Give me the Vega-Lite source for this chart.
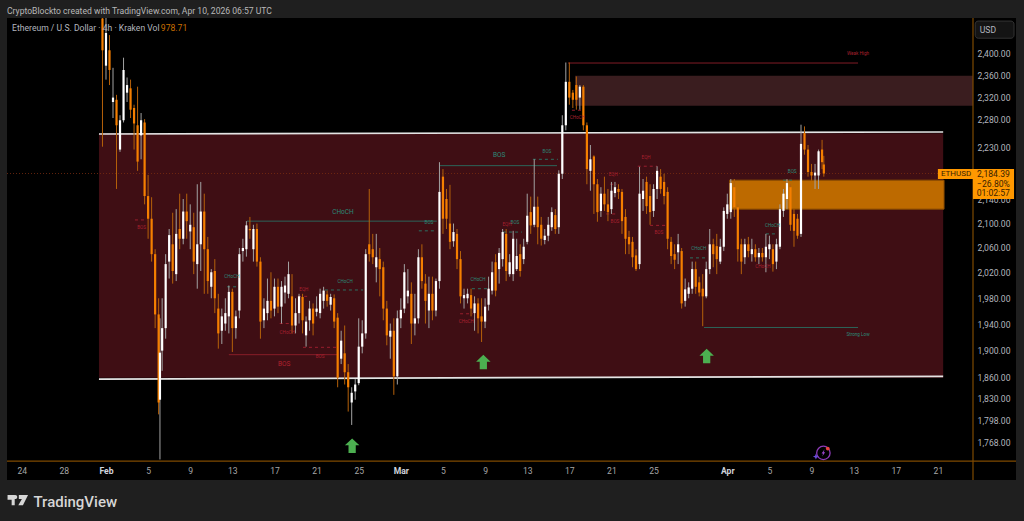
{"$schema":"https://vega.github.io/schema/vega-lite/v6.json","width":1009,"height":462,"autosize":{"type":"none"},"padding":{"left":7,"top":18,"right":8,"bottom":41},"background":"#1f1f1f","view":{"fill":"#000000","stroke":null},"config":{"font":"Roboto","axis":{"grid":false,"domain":false,"ticks":false}},"title":{"text":"CryptoBlockto created with TradingView.com, Apr 10, 2026 06:57 UTC","anchor":"start","frame":"group","offset":2,"fontSize":8.6,"fontWeight":"normal","color":"#b8b8b8"},
"datasets":{
"candles":[
{"t":"2026-01-31T16:00Z","o":2468,"c":2407,"p2":2469,"p":2231},
{"t":"2026-02-01T00:00Z","o":2378,"c":2440,"p2":2469,"p":2352},
{"t":"2026-02-01T08:00Z","o":2407,"c":2370,"p2":2436,"p":2342},
{"t":"2026-02-01T16:00Z","o":2311,"c":2319,"p2":2374,"p":2282},
{"t":"2026-02-02T00:00Z","o":2315,"c":2269,"p2":2324,"p":2158},
{"t":"2026-02-02T08:00Z","o":2226,"c":2278,"p2":2287,"p":2222},
{"t":"2026-02-02T16:00Z","o":2278,"c":2370,"p2":2393,"p":2274},
{"t":"2026-02-03T00:00Z","o":2328,"c":2342,"p2":2356,"p":2311},
{"t":"2026-02-03T08:00Z","o":2336,"c":2297,"p2":2352,"p":2282},
{"t":"2026-02-03T16:00Z","o":2300,"c":2272,"p2":2306,"p":2226},
{"t":"2026-02-04T00:00Z","o":2269,"c":2205,"p2":2339,"p":2189},
{"t":"2026-02-04T08:00Z","o":2251,"c":2278,"p2":2291,"p":2209},
{"t":"2026-02-04T16:00Z","o":2274,"c":2146,"p2":2280,"p":2132},
{"t":"2026-02-05T00:00Z","o":2146,"c":2108,"p2":2182,"p":2075},
{"t":"2026-02-05T08:00Z","o":2108,"c":2050,"p2":2144,"p":2038},
{"t":"2026-02-05T16:00Z","o":2050,"c":1955,"p2":2058,"p":1934},
{"t":"2026-02-06T00:00Z","o":1955,"c":1824,"p2":1980,"p":1807},
{"t":"2026-02-06T03:00Z","o":1828,"c":1897,"p2":1949,"p":1744},
{"t":"2026-02-06T08:00Z","o":1900,"c":1934,"p2":1980,"p":1870},
{"t":"2026-02-06T16:00Z","o":1934,"c":2034,"p2":2050,"p":1918},
{"t":"2026-02-07T00:00Z","o":2038,"c":2081,"p2":2091,"p":2011},
{"t":"2026-02-07T08:00Z","o":2066,"c":2023,"p2":2118,"p":2003},
{"t":"2026-02-07T16:00Z","o":2018,"c":2083,"p2":2124,"p":2007},
{"t":"2026-02-08T00:00Z","o":2091,"c":2075,"p2":2150,"p":2058},
{"t":"2026-02-08T08:00Z","o":2075,"c":2120,"p2":2141,"p":2066},
{"t":"2026-02-08T16:00Z","o":2120,"c":2104,"p2":2150,"p":2075},
{"t":"2026-02-09T00:00Z","o":2087,"c":2098,"p2":2132,"p":2058},
{"t":"2026-02-09T08:00Z","o":2094,"c":2038,"p2":2118,"p":2018},
{"t":"2026-02-09T16:00Z","o":2034,"c":2066,"p2":2166,"p":1995},
{"t":"2026-02-10T00:00Z","o":2066,"c":2120,"p2":2170,"p":2023},
{"t":"2026-02-10T08:00Z","o":2120,"c":2058,"p2":2150,"p":1987},
{"t":"2026-02-10T16:00Z","o":2058,"c":2007,"p2":2078,"p":1987},
{"t":"2026-02-11T00:00Z","o":1998,"c":2021,"p2":2026,"p":1980},
{"t":"2026-02-11T08:00Z","o":2023,"c":1980,"p2":2042,"p":1957},
{"t":"2026-02-11T16:00Z","o":1964,"c":1926,"p2":1987,"p":1903},
{"t":"2026-02-12T00:00Z","o":1930,"c":1952,"p2":1964,"p":1910},
{"t":"2026-02-12T08:00Z","o":1941,"c":1957,"p2":1980,"p":1930},
{"t":"2026-02-12T16:00Z","o":1952,"c":1990,"p2":2000,"p":1926},
{"t":"2026-02-13T00:00Z","o":1990,"c":1934,"p2":1995,"p":1898},
{"t":"2026-02-13T08:00Z","o":1934,"c":1952,"p2":1961,"p":1918},
{"t":"2026-02-13T16:00Z","o":1961,"c":2050,"p2":2060,"p":1949},
{"t":"2026-02-14T00:00Z","o":2055,"c":2060,"p2":2075,"p":2038},
{"t":"2026-02-14T08:00Z","o":2058,"c":2097,"p2":2104,"p":2046},
{"t":"2026-02-14T16:00Z","o":2091,"c":2089,"p2":2111,"p":2075},
{"t":"2026-02-15T00:00Z","o":2058,"c":2091,"p2":2098,"p":2038},
{"t":"2026-02-15T08:00Z","o":2091,"c":2038,"p2":2100,"p":2030},
{"t":"2026-02-15T16:00Z","o":2038,"c":1944,"p2":2045,"p":1918},
{"t":"2026-02-16T00:00Z","o":1946,"c":1964,"p2":1980,"p":1934},
{"t":"2026-02-16T08:00Z","o":1957,"c":1976,"p2":2011,"p":1946},
{"t":"2026-02-16T16:00Z","o":1976,"c":1961,"p2":2021,"p":1949},
{"t":"2026-02-17T00:00Z","o":1964,"c":1998,"p2":2011,"p":1952},
{"t":"2026-02-17T08:00Z","o":1998,"c":1967,"p2":2011,"p":1957},
{"t":"2026-02-17T16:00Z","o":1967,"c":1998,"p2":2007,"p":1941},
{"t":"2026-02-18T00:00Z","o":1989,"c":2000,"p2":2014,"p":1972},
{"t":"2026-02-18T08:00Z","o":1987,"c":2018,"p2":2038,"p":1980},
{"t":"2026-02-18T16:00Z","o":1983,"c":1938,"p2":2018,"p":1926},
{"t":"2026-02-19T00:00Z","o":1938,"c":1957,"p2":1980,"p":1926},
{"t":"2026-02-19T08:00Z","o":1957,"c":1983,"p2":1987,"p":1941},
{"t":"2026-02-19T16:00Z","o":1982,"c":1946,"p2":1987,"p":1926},
{"t":"2026-02-20T00:00Z","o":1923,"c":1944,"p2":1952,"p":1906},
{"t":"2026-02-20T08:00Z","o":1946,"c":1964,"p2":1976,"p":1930},
{"t":"2026-02-20T16:00Z","o":1964,"c":1941,"p2":1972,"p":1923},
{"t":"2026-02-21T00:00Z","o":1959,"c":1964,"p2":1983,"p":1952},
{"t":"2026-02-21T08:00Z","o":1957,"c":1987,"p2":1995,"p":1949},
{"t":"2026-02-21T16:00Z","o":1976,"c":1992,"p2":1998,"p":1964},
{"t":"2026-02-22T00:00Z","o":1986,"c":1976,"p2":1992,"p":1967},
{"t":"2026-02-22T08:00Z","o":1970,"c":1982,"p2":1987,"p":1961},
{"t":"2026-02-22T16:00Z","o":1980,"c":1944,"p2":1986,"p":1934},
{"t":"2026-02-23T00:00Z","o":1950,"c":1860,"p2":1957,"p":1846},
{"t":"2026-02-23T08:00Z","o":1888,"c":1915,"p2":1930,"p":1880},
{"t":"2026-02-23T16:00Z","o":1896,"c":1868,"p2":1938,"p":1850},
{"t":"2026-02-24T00:00Z","o":1868,"c":1846,"p2":1880,"p":1811},
{"t":"2026-02-24T08:00Z","o":1824,"c":1838,"p2":1846,"p":1792},
{"t":"2026-02-24T16:00Z","o":1840,"c":1850,"p2":1858,"p":1828},
{"t":"2026-02-25T00:00Z","o":1852,"c":1906,"p2":1949,"p":1849},
{"t":"2026-02-25T08:00Z","o":1906,"c":1926,"p2":1946,"p":1896},
{"t":"2026-02-25T16:00Z","o":1926,"c":2050,"p2":2058,"p":1918},
{"t":"2026-02-26T00:00Z","o":2066,"c":2050,"p2":2158,"p":2038},
{"t":"2026-02-26T08:00Z","o":2058,"c":2045,"p2":2083,"p":2034},
{"t":"2026-02-26T16:00Z","o":2029,"c":2045,"p2":2083,"p":2005},
{"t":"2026-02-27T00:00Z","o":2042,"c":2026,"p2":2060,"p":1983},
{"t":"2026-02-27T08:00Z","o":2029,"c":1964,"p2":2038,"p":1946},
{"t":"2026-02-27T16:00Z","o":1964,"c":1923,"p2":1976,"p":1908},
{"t":"2026-02-28T00:00Z","o":1921,"c":1930,"p2":1941,"p":1888},
{"t":"2026-02-28T08:00Z","o":1930,"c":1862,"p2":1949,"p":1835},
{"t":"2026-02-28T16:00Z","o":1862,"c":1949,"p2":1961,"p":1850},
{"t":"2026-03-01T00:00Z","o":1949,"c":1962,"p2":1980,"p":1934},
{"t":"2026-03-01T08:00Z","o":1964,"c":2021,"p2":2034,"p":1957},
{"t":"2026-03-01T16:00Z","o":1983,"c":1992,"p2":2026,"p":1972},
{"t":"2026-03-02T00:00Z","o":1987,"c":1941,"p2":2005,"p":1910},
{"t":"2026-03-02T08:00Z","o":1941,"c":1949,"p2":1987,"p":1923},
{"t":"2026-03-02T16:00Z","o":1949,"c":2045,"p2":2058,"p":1941},
{"t":"2026-03-03T00:00Z","o":2045,"c":2007,"p2":2066,"p":1995},
{"t":"2026-03-03T08:00Z","o":2003,"c":1976,"p2":2018,"p":1941},
{"t":"2026-03-03T16:00Z","o":1961,"c":1987,"p2":2014,"p":1934},
{"t":"2026-03-04T00:00Z","o":1987,"c":1961,"p2":2014,"p":1946},
{"t":"2026-03-04T08:00Z","o":1961,"c":2007,"p2":2011,"p":1952},
{"t":"2026-03-04T16:00Z","o":2007,"c":2153,"p2":2204,"p":1995},
{"t":"2026-03-05T00:00Z","o":2179,"c":2108,"p2":2192,"p":2083},
{"t":"2026-03-05T08:00Z","o":2141,"c":2108,"p2":2158,"p":2091},
{"t":"2026-03-05T16:00Z","o":2100,"c":2070,"p2":2165,"p":2058},
{"t":"2026-03-06T00:00Z","o":2071,"c":2086,"p2":2100,"p":2062},
{"t":"2026-03-06T08:00Z","o":2083,"c":2042,"p2":2091,"p":2026},
{"t":"2026-03-06T16:00Z","o":2042,"c":1983,"p2":2055,"p":1972},
{"t":"2026-03-07T00:00Z","o":1980,"c":1985,"p2":1995,"p":1964},
{"t":"2026-03-07T08:00Z","o":1980,"c":1987,"p2":1995,"p":1972},
{"t":"2026-03-07T16:00Z","o":1985,"c":1964,"p2":1995,"p":1952},
{"t":"2026-03-08T00:00Z","o":1957,"c":1972,"p2":1983,"p":1930},
{"t":"2026-03-08T08:00Z","o":1972,"c":1949,"p2":1980,"p":1926},
{"t":"2026-03-08T16:00Z","o":1952,"c":1944,"p2":1980,"p":1913},
{"t":"2026-03-09T00:00Z","o":1944,"c":1967,"p2":1980,"p":1934},
{"t":"2026-03-09T08:00Z","o":1970,"c":1995,"p2":2014,"p":1961},
{"t":"2026-03-09T16:00Z","o":1992,"c":2021,"p2":2038,"p":1986},
{"t":"2026-03-10T00:00Z","o":2037,"c":1992,"p2":2050,"p":1983},
{"t":"2026-03-10T08:00Z","o":2026,"c":2052,"p2":2060,"p":2003},
{"t":"2026-03-10T16:00Z","o":2042,"c":2086,"p2":2091,"p":2030},
{"t":"2026-03-11T00:00Z","o":2083,"c":2023,"p2":2091,"p":2007},
{"t":"2026-03-11T08:00Z","o":2018,"c":2037,"p2":2050,"p":2014},
{"t":"2026-03-11T16:00Z","o":2018,"c":2075,"p2":2088,"p":2007},
{"t":"2026-03-12T00:00Z","o":2026,"c":2047,"p2":2075,"p":2023},
{"t":"2026-03-12T08:00Z","o":2050,"c":2023,"p2":2066,"p":2014},
{"t":"2026-03-12T16:00Z","o":2042,"c":2062,"p2":2075,"p":2034},
{"t":"2026-03-13T00:00Z","o":2070,"c":2113,"p2":2150,"p":2066},
{"t":"2026-03-13T08:00Z","o":2119,"c":2097,"p2":2145,"p":2083},
{"t":"2026-03-13T16:00Z","o":2098,"c":2128,"p2":2209,"p":2094},
{"t":"2026-03-14T00:00Z","o":2128,"c":2094,"p2":2145,"p":2066},
{"t":"2026-03-14T08:00Z","o":2098,"c":2075,"p2":2111,"p":2064},
{"t":"2026-03-14T16:00Z","o":2073,"c":2080,"p2":2091,"p":2066},
{"t":"2026-03-15T00:00Z","o":2080,"c":2098,"p2":2111,"p":2071},
{"t":"2026-03-15T08:00Z","o":2094,"c":2119,"p2":2127,"p":2088},
{"t":"2026-03-15T16:00Z","o":2114,"c":2091,"p2":2124,"p":2083},
{"t":"2026-03-16T00:00Z","o":2094,"c":2184,"p2":2190,"p":2083},
{"t":"2026-03-16T08:00Z","o":2184,"c":2269,"p2":2287,"p":2175},
{"t":"2026-03-16T16:00Z","o":2269,"c":2348,"p2":2384,"p":2260},
{"t":"2026-03-17T00:00Z","o":2348,"c":2319,"p2":2384,"p":2306},
{"t":"2026-03-17T08:00Z","o":2328,"c":2315,"p2":2333,"p":2300},
{"t":"2026-03-17T16:00Z","o":2342,"c":2315,"p2":2358,"p":2297},
{"t":"2026-03-18T00:00Z","o":2319,"c":2339,"p2":2342,"p":2297},
{"t":"2026-03-18T08:00Z","o":2339,"c":2269,"p2":2342,"p":2260},
{"t":"2026-03-18T16:00Z","o":2269,"c":2192,"p2":2274,"p":2166},
{"t":"2026-03-19T00:00Z","o":2189,"c":2209,"p2":2234,"p":2155},
{"t":"2026-03-19T08:00Z","o":2214,"c":2166,"p2":2216,"p":2116},
{"t":"2026-03-19T16:00Z","o":2166,"c":2119,"p2":2175,"p":2103},
{"t":"2026-03-20T00:00Z","o":2121,"c":2150,"p2":2161,"p":2111},
{"t":"2026-03-20T08:00Z","o":2150,"c":2132,"p2":2179,"p":2121},
{"t":"2026-03-20T16:00Z","o":2132,"c":2119,"p2":2158,"p":2104},
{"t":"2026-03-21T00:00Z","o":2124,"c":2155,"p2":2170,"p":2116},
{"t":"2026-03-21T08:00Z","o":2151,"c":2161,"p2":2170,"p":2144},
{"t":"2026-03-21T16:00Z","o":2158,"c":2153,"p2":2166,"p":2141},
{"t":"2026-03-22T00:00Z","o":2153,"c":2104,"p2":2158,"p":2083},
{"t":"2026-03-22T08:00Z","o":2111,"c":2075,"p2":2124,"p":2050},
{"t":"2026-03-22T16:00Z","o":2078,"c":2066,"p2":2088,"p":2050},
{"t":"2026-03-23T00:00Z","o":2070,"c":2045,"p2":2078,"p":2029},
{"t":"2026-03-23T08:00Z","o":2048,"c":2026,"p2":2058,"p":2023},
{"t":"2026-03-23T16:00Z","o":2034,"c":2150,"p2":2196,"p":2026},
{"t":"2026-03-24T00:00Z","o":2141,"c":2155,"p2":2175,"p":2121},
{"t":"2026-03-24T08:00Z","o":2170,"c":2129,"p2":2179,"p":2116},
{"t":"2026-03-24T16:00Z","o":2146,"c":2119,"p2":2166,"p":2098},
{"t":"2026-03-25T00:00Z","o":2121,"c":2158,"p2":2166,"p":2111},
{"t":"2026-03-25T08:00Z","o":2158,"c":2189,"p2":2197,"p":2141},
{"t":"2026-03-25T16:00Z","o":2179,"c":2158,"p2":2192,"p":2150},
{"t":"2026-03-26T00:00Z","o":2170,"c":2146,"p2":2184,"p":2132},
{"t":"2026-03-26T08:00Z","o":2153,"c":2075,"p2":2161,"p":2058},
{"t":"2026-03-26T16:00Z","o":2070,"c":2047,"p2":2078,"p":2034},
{"t":"2026-03-27T00:00Z","o":2050,"c":2041,"p2":2066,"p":2026},
{"t":"2026-03-27T08:00Z","o":2053,"c":2066,"p2":2083,"p":2034},
{"t":"2026-03-27T16:00Z","o":2055,"c":1972,"p2":2060,"p":1964},
{"t":"2026-03-28T00:00Z","o":1976,"c":1994,"p2":2011,"p":1967},
{"t":"2026-03-28T08:00Z","o":1987,"c":1997,"p2":2005,"p":1980},
{"t":"2026-03-28T16:00Z","o":1995,"c":2026,"p2":2038,"p":1987},
{"t":"2026-03-29T00:00Z","o":2026,"c":1998,"p2":2038,"p":1987},
{"t":"2026-03-29T08:00Z","o":2005,"c":1989,"p2":2014,"p":1983},
{"t":"2026-03-29T16:00Z","o":1995,"c":1983,"p2":2018,"p":1937},
{"t":"2026-03-30T00:00Z","o":1983,"c":2026,"p2":2038,"p":1980},
{"t":"2026-03-30T08:00Z","o":2026,"c":2066,"p2":2091,"p":2018},
{"t":"2026-03-30T16:00Z","o":2066,"c":2050,"p2":2075,"p":2029},
{"t":"2026-03-31T00:00Z","o":2063,"c":2042,"p2":2083,"p":2018},
{"t":"2026-03-31T08:00Z","o":2038,"c":2062,"p2":2075,"p":2034},
{"t":"2026-03-31T16:00Z","o":2062,"c":2121,"p2":2127,"p":2055},
{"t":"2026-04-01T00:00Z","o":2116,"c":2132,"p2":2150,"p":2108},
{"t":"2026-04-01T08:00Z","o":2119,"c":2168,"p2":2175,"p":2108},
{"t":"2026-04-01T16:00Z","o":2161,"c":2127,"p2":2175,"p":2111},
{"t":"2026-04-02T00:00Z","o":2127,"c":2058,"p2":2132,"p":2038},
{"t":"2026-04-02T08:00Z","o":2066,"c":2038,"p2":2075,"p":2018},
{"t":"2026-04-02T16:00Z","o":2045,"c":2066,"p2":2075,"p":2034},
{"t":"2026-04-03T00:00Z","o":2066,"c":2055,"p2":2078,"p":2045},
{"t":"2026-04-03T08:00Z","o":2050,"c":2058,"p2":2075,"p":2038},
{"t":"2026-04-03T16:00Z","o":2058,"c":2045,"p2":2066,"p":2038},
{"t":"2026-04-04T00:00Z","o":2045,"c":2052,"p2":2060,"p":2034},
{"t":"2026-04-04T08:00Z","o":2052,"c":2045,"p2":2060,"p":2038},
{"t":"2026-04-04T16:00Z","o":2045,"c":2062,"p2":2083,"p":2021},
{"t":"2026-04-05T00:00Z","o":2058,"c":2066,"p2":2080,"p":2042},
{"t":"2026-04-05T08:00Z","o":2058,"c":2034,"p2":2066,"p":2022},
{"t":"2026-04-05T16:00Z","o":2038,"c":2066,"p2":2075,"p":2026},
{"t":"2026-04-06T00:00Z","o":2062,"c":2124,"p2":2132,"p":2058},
{"t":"2026-04-06T08:00Z","o":2121,"c":2150,"p2":2158,"p":2111},
{"t":"2026-04-06T16:00Z","o":2141,"c":2168,"p2":2175,"p":2124},
{"t":"2026-04-07T00:00Z","o":2161,"c":2098,"p2":2166,"p":2088},
{"t":"2026-04-07T08:00Z","o":2116,"c":2088,"p2":2124,"p":2062},
{"t":"2026-04-07T16:00Z","o":2108,"c":2080,"p2":2116,"p":2075},
{"t":"2026-04-08T00:00Z","o":2083,"c":2236,"p2":2270,"p":2078},
{"t":"2026-04-08T08:00Z","o":2255,"c":2226,"p2":2267,"p":2217},
{"t":"2026-04-08T16:00Z","o":2226,"c":2187,"p2":2234,"p":2179},
{"t":"2026-04-09T00:00Z","o":2187,"c":2181,"p2":2201,"p":2172},
{"t":"2026-04-09T08:00Z","o":2181,"c":2186,"p2":2201,"p":2158},
{"t":"2026-04-09T16:00Z","o":2181,"c":2223,"p2":2226,"p":2158},
{"t":"2026-04-10T00:00Z","o":2226,"c":2204,"p2":2243,"p":2192},
{"t":"2026-04-10T04:00Z","o":2200,"c":2184.39,"p2":2215,"p":2179}
],
"greenSolid":[
{"t":"2026-02-14T09:00Z","t2":"2026-03-04T10:00Z","p":2104},
{"t":"2026-03-04T17:00Z","t2":"2026-03-15T20:00Z","p":2198},
{"t":"2026-03-29T19:00Z","t2":"2026-04-13T10:00Z","p":1935}],
"redSolid":[
{"t":"2026-03-16T21:00Z","t2":"2026-04-13T10:00Z","p":2383},
{"t":"2026-02-12T16:00Z","t2":"2026-02-23T01:00Z","p":1894}],
"greenDashed":[
{"t":"2026-03-13T13:00Z","t2":"2026-03-15T22:00Z","p":2209},
{"t":"2026-03-02T17:00Z","t2":"2026-03-04T08:00Z","p":2088},
{"t":"2026-03-10T17:00Z","t2":"2026-03-12T12:00Z","p":2086},
{"t":"2026-04-06T07:00Z","t2":"2026-04-07T08:00Z","p":2173},
{"t":"2026-04-04T16:00Z","t2":"2026-04-05T17:00Z","p":2083},
{"t":"2026-03-28T11:00Z","t2":"2026-03-30T04:00Z","p":2044},
{"t":"2026-02-12T12:00Z","t2":"2026-02-13T13:00Z","p":1998},
{"t":"2026-02-21T19:00Z","t2":"2026-02-25T10:00Z","p":1993},
{"t":"2026-03-07T18:00Z","t2":"2026-03-09T07:00Z","p":1995}],
"redDashed":[
{"t":"2026-02-03T18:00Z","t2":"2026-02-04T21:00Z","p":2106},
{"t":"2026-03-17T06:00Z","t2":"2026-03-18T05:00Z","p":2296},
{"t":"2026-03-23T12:00Z","t2":"2026-03-25T08:00Z","p":2197},
{"t":"2026-03-20T21:00Z","t2":"2026-03-21T12:00Z","p":2166},
{"t":"2026-03-20T12:00Z","t2":"2026-03-21T15:00Z","p":2116},
{"t":"2026-03-24T16:00Z","t2":"2026-03-26T04:00Z","p":2097},
{"t":"2026-02-17T12:00Z","t2":"2026-02-18T18:00Z","p":1941},
{"t":"2026-02-19T17:00Z","t2":"2026-02-22T23:00Z","p":1905},
{"t":"2026-02-19T06:00Z","t2":"2026-02-20T09:00Z","p":1983},
{"t":"2026-03-06T15:00Z","t2":"2026-03-07T20:00Z","p":1956}],
"greenSmall":[
{"t":"2026-03-14T21:00Z","p":2222,"label":"BOS"},
{"t":"2026-03-03T16:00Z","p":2101,"label":"BOS"},
{"t":"2026-03-11T20:00Z","p":2101,"label":"BOS"},
{"t":"2026-04-07T04:00Z","p":2187,"label":"BOS"},
{"t":"2026-04-05T07:00Z","p":2096,"label":"CHoCH"},
{"t":"2026-03-29T07:00Z","p":2058,"label":"CHoCH"},
{"t":"2026-02-12T23:00Z","p":2013,"label":"CHoCH"},
{"t":"2026-02-23T17:00Z","p":2006,"label":"CHoCH"},
{"t":"2026-03-08T08:00Z","p":2008,"label":"CHoCH"},
{"t":"2026-04-13T10:00Z","p":1923,"label":"Strong Low"}],
"redSmall":[
{"t":"2026-02-04T09:00Z","p":2093,"label":"BOS"},
{"t":"2026-03-17T18:00Z","p":2282,"label":"CHoCH"},
{"t":"2026-03-24T07:00Z","p":2211,"label":"EQH"},
{"t":"2026-03-21T04:00Z","p":2182,"label":"EQH"},
{"t":"2026-03-21T08:00Z","p":2103,"label":"BOS"},
{"t":"2026-03-25T12:00Z","p":2084,"label":"BOS"},
{"t":"2026-02-18T05:00Z","p":1927,"label":"CHoCH"},
{"t":"2026-02-19T19:00Z","p":1993,"label":"EQH"},
{"t":"2026-02-21T08:00Z","p":1891,"label":"BOS"},
{"t":"2026-03-07T05:00Z","p":1943,"label":"CHoCH"},
{"t":"2026-03-11T02:00Z","p":2098,"label":"EQH"},
{"t":"2026-04-13T10:00Z","p":2400,"label":"Weak High"},
{"t":"2026-04-04T09:00Z","p":2030,"label":"CHoCH"}],
"greenBig":[
{"t":"2026-02-23T12:00Z","p":2120,"label":"CHoCH"},
{"t":"2026-03-10T08:00Z","p":2216,"label":"BOS"}],
"redBig":[
{"t":"2026-02-17T22:00Z","p":1880,"label":"BOS"}],
"edges":[
{"t":"2026-01-31T08:00Z","p":2253.5,"edge":"top"},
{"t":"2026-04-21T12:00Z","p":2257,"edge":"top"},
{"t":"2026-01-31T08:00Z","p":1858,"edge":"bottom"},
{"t":"2026-04-21T12:00Z","p":1862,"edge":"bottom"}],
"arrows":[
{"t":"2026-02-24T09:00Z","p":1763},
{"t":"2026-03-08T20:00Z","p":1883},
{"t":"2026-03-30T01:00Z","p":1892}]
},
"encoding":{
"x":{"field":"t","type":"temporal","title":null,"scale":{"type":"utc","padding":0,"domain":["2026-01-22T14:24:00Z","2026-04-28T10:00:00Z"]},"axis":{"title":"TradingView","titleX":26,"titleY":26,"titleAnchor":"start","titleAlign":"left","titleBaseline":"alphabetic","titleFontSize":15,"titleFontWeight":500,"titleColor":"#d6d6d6","values":["2026-01-24T00:00:00Z","2026-01-28T00:00:00Z","2026-02-01T00:00:00Z","2026-02-05T00:00:00Z","2026-02-09T00:00:00Z","2026-02-13T00:00:00Z","2026-02-17T00:00:00Z","2026-02-21T00:00:00Z","2026-02-25T00:00:00Z","2026-03-01T00:00:00Z","2026-03-05T00:00:00Z","2026-03-09T00:00:00Z","2026-03-13T00:00:00Z","2026-03-17T00:00:00Z","2026-03-21T00:00:00Z","2026-03-25T00:00:00Z","2026-04-01T00:00:00Z","2026-04-05T00:00:00Z","2026-04-09T00:00:00Z","2026-04-13T00:00:00Z","2026-04-17T00:00:00Z","2026-04-21T00:00:00Z"],"labelExpr":"utcdate(datum.value)==1 ? utcFormat(datum.value,'%b') : utcFormat(datum.value,'%-d')","labelPadding":-10,"labelBaseline":"middle","labelFontSize":8.6,"labelColor":{"condition":{"test":"utcdate(datum.value)==1","value":"#d1d4dc"},"value":"#a6a6a6"},"labelFontWeight":{"condition":{"test":"utcdate(datum.value)==1","value":"bold"},"value":"normal"},"labelOverlap":false,"labelFlush":false}},
"y":{"field":"p","type":"quantitative","title":null,"scale":{"type":"log","domain":[1716,2469],"nice":false,"zero":false},"axis":{"orient":"right","values":[2400,2360,2320,2280,2230,2140,2100,2060,2020,1980,1940,1900,1860,1830,1798,1768],"format":",.2f","labelPadding":-6,"labelAlign":"right","labelBaseline":"middle","labelFontSize":8.6,"labelColor":"#b2b5be","labelOverlap":false,"labelFlush":false}}
},
"layer":[
{"data":{"values":[{"t":"2026-01-31T08:00Z","t2":"2026-04-21T12:00Z","p":1860,"p2":2255}]},"mark":{"type":"rect","fill":"#3f0e14"},"encoding":{"x2":{"field":"t2"},"y2":{"field":"p2"}}},
{"data":{"values":[{"t":"2026-03-17T13:00Z","t2":"2026-04-24T08:00Z","p":2304,"p2":2359}]},"mark":{"type":"rect","fill":"#3a1d1f"},"encoding":{"x2":{"field":"t2"},"y2":{"field":"p2"}}},
{"data":{"values":[{"t":"2026-04-01T05:00Z","t2":"2026-04-21T14:00Z","p":2124,"p2":2173}]},"mark":{"type":"rect","fill":"#bd6a00","stroke":"#8a4c00","strokeWidth":1},"encoding":{"x2":{"field":"t2"},"y2":{"field":"p2"}}},
{"data":{"values":[{"t":"2026-01-22T14:24Z","t2":"2026-04-24T08:00Z","p":2184.39}]},"mark":{"type":"rule","color":"#7a2c10","strokeWidth":0.8,"strokeDash":[1,2]},"encoding":{"x2":{"field":"t2"}}},
{"data":{"values":[{"t":"2026-04-24T08:00Z","p":1716,"p2":2469}]},"mark":{"type":"rule","color":"#7f4a00","strokeWidth":1.2},"encoding":{"y2":{"field":"p2"}}},
{"data":{"values":[{"t":"2026-01-22T14:24Z","t2":"2026-04-28T10:00Z","p":1741.8}]},"mark":{"type":"rule","color":"#7f4a00","strokeWidth":1.2},"encoding":{"x2":{"field":"t2"}}},
{"data":{"name":"greenSolid"},"mark":{"type":"rule","color":"#2a6e62","strokeWidth":0.9},"encoding":{"x2":{"field":"t2"}}},
{"data":{"name":"redSolid"},"mark":{"type":"rule","color":"#8f1f2a","strokeWidth":0.9},"encoding":{"x2":{"field":"t2"}}},
{"data":{"name":"greenDashed"},"mark":{"type":"rule","color":"#2a7a6a","strokeWidth":0.9,"strokeDash":[3,3]},"encoding":{"x2":{"field":"t2"}}},
{"data":{"name":"redDashed"},"mark":{"type":"rule","color":"#a32030","strokeWidth":0.9,"strokeDash":[3,3]},"encoding":{"x2":{"field":"t2"}}},
{"data":{"name":"edges"},"mark":{"type":"line","color":"#e4e4e4","strokeWidth":1.7},"encoding":{"detail":{"field":"edge"}}},
{"data":{"name":"candles"},"mark":{"type":"rule","strokeWidth":1},"encoding":{"y2":{"field":"p2"},"color":{"condition":{"test":"datum.c>=datum.o","value":"#a3a3a3"},"value":"#b5610a"}}},
{"data":{"name":"candles"},"mark":{"type":"bar","size":2.2},"encoding":{"y":{"field":"o","type":"quantitative","title":null,"scale":{"type":"log"}},"y2":{"field":"c"},"color":{"condition":{"test":"datum.c>=datum.o","value":"#ffffff"},"value":"#f57f00"}}},
{"data":{"name":"greenSmall"},"mark":{"type":"text","fontSize":4.6,"color":"#2b8a78"},"encoding":{"text":{"field":"label"}}},
{"data":{"name":"redSmall"},"mark":{"type":"text","fontSize":4.6,"color":"#a8202f"},"encoding":{"text":{"field":"label"}}},
{"data":{"name":"greenBig"},"mark":{"type":"text","fontSize":6.5,"color":"#2b8a78"},"encoding":{"text":{"field":"label"}}},
{"data":{"name":"redBig"},"mark":{"type":"text","fontSize":6.5,"color":"#b0222f"},"encoding":{"text":{"field":"label"}}},
{"data":{"name":"arrows"},"mark":{"type":"point","filled":true,"opacity":1,"color":"#4caf50","size":210,"shape":"M0,-1 L1,-0.05 L0.5,-0.05 L0.5,1 L-0.5,1 L-0.5,-0.05 L-1,-0.05 Z"}},
{"data":{"values":[{"t":"2026-04-10T03:00Z","p":1753}]},"mark":{"type":"point","filled":false,"opacity":1,"color":"#8e3bb8","strokeWidth":1.3,"size":180,"shape":"circle"}},
{"data":{"values":[{"t":"2026-04-10T03:00Z","p":1753}]},"mark":{"type":"point","filled":true,"opacity":1,"color":"#a64ad8","size":50,"shape":"M0.35,-1 L-0.5,0.2 L-0.05,0.2 L-0.35,1 L0.5,-0.2 L0.05,-0.2 Z"}},
{"data":{"values":[{"t":"2026-04-09T10:00Z","p":1748}]},"mark":{"type":"point","filled":true,"opacity":1,"color":"#6a4bd8","size":36,"shape":"M0,-1 L0.3,-0.3 L1,0 L0.3,0.3 L0,1 L-0.3,0.3 L-1,0 L-0.3,-0.3 Z"}},
{"data":{"values":[{"t":"2026-04-10T13:00Z","p":1759}]},"mark":{"type":"point","filled":true,"opacity":1,"color":"#e8433f","size":14,"shape":"circle"}},
{"data":{"values":[{"t":"2026-01-23T15:00Z","p":1689}]},"mark":{"type":"point","filled":true,"opacity":1,"color":"#d6d6d6","size":420,"shape":"M-1,-0.5 L-0.3,-0.5 L-0.3,0.5 L-0.6,0.5 L-0.6,-0.05 L-1,-0.05 Z M-0.25,-0.5 A0.13,0.13 0 1 1 -0.25,-0.1 A0.13,0.13 0 1 1 -0.25,-0.5 Z M0.1,-0.5 L1,-0.5 L0.5,0.5 L0.05,0.5 L0.4,-0.1 L0.1,-0.1 Z"}},
{"data":{"values":[{"t":"2026-01-23T02:00Z","p":2450,"label":"Ethereum / U.S. Dollar · 4h · Kraken  Vol"}]},"mark":{"type":"text","align":"left","fontSize":8.6,"color":"#b2b5be"},"encoding":{"text":{"field":"label"}}},
{"data":{"values":[{"t":"2026-02-06T05:00Z","p":2450,"label":"978.71"}]},"mark":{"type":"text","align":"left","fontSize":8.6,"color":"#c96f00"},"encoding":{"text":{"field":"label"}}},
{"data":{"values":[{"t":"2026-04-24T13:00Z","t2":"2026-04-28T05:30Z","p":2430,"p2":2463}]},"mark":{"type":"rect","fill":"#141414","stroke":"#333333","strokeWidth":1,"cornerRadius":3},"encoding":{"x2":{"field":"t2"},"y2":{"field":"p2"}}},
{"data":{"values":[{"t":"2026-04-25T18:00Z","p":2445,"label":"USD"}]},"mark":{"type":"text","fontSize":8.6,"color":"#b2b5be"},"encoding":{"text":{"field":"label"}}},
{"data":{"values":[{"t":"2026-04-21T00:00Z","t2":"2026-04-24T08:00Z","p":2175,"p2":2192},{"t":"2026-04-24T08:00Z","t2":"2026-04-28T05:30Z","p":2141,"p2":2192}]},"mark":{"type":"rect","fill":"#ff9800"},"encoding":{"x2":{"field":"t2"},"y2":{"field":"p2"}}},
{"data":{"values":[{"t":"2026-04-21T07:00Z","p":2183.6,"label":"ETHUSD"}]},"mark":{"type":"text","align":"left","fontSize":8,"color":"#3a2200"},"encoding":{"text":{"field":"label"}}},
{"data":{"values":[{"t":"2026-04-27T20:00Z","p":2183.6,"label":"2,184.39"},{"t":"2026-04-27T20:00Z","p":2166.5,"label":"−26.80%"},{"t":"2026-04-27T20:00Z","p":2151,"label":"01:02:57"}]},"mark":{"type":"text","align":"right","fontSize":8.6,"color":"#3a2200"},"encoding":{"text":{"field":"label"}}}
]}
